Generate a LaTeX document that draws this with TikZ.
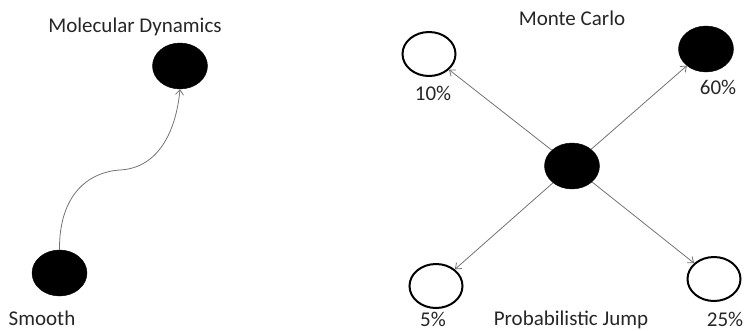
\documentclass[tikz,border=0pt]{standalone}
\usepackage{fontspec}
\setmainfont{Carlito}
\usetikzlibrary{shapes.geometric,arrows.meta}

\begin{document}
\begin{tikzpicture}[x=1pt,y=-1pt,
  particle/.style={ellipse,minimum width=55pt,minimum height=46pt,inner sep=0pt},
  full/.style={particle,fill=black,draw=black},
  empty/.style={particle,draw=black,line width=2pt,fill=white,minimum width=53pt,minimum height=44pt},
  move/.style={draw=black!55,line width=0.8pt,-{Straight Barb[length=5pt,width=8pt]}},
  lbl/.style={anchor=base,text=black!85,font=\fontsize{21}{25}\selectfont,inner sep=0pt}]
  \useasboundingbox (0,0) rectangle (747,330);

  % Molecular dynamics: smooth trajectory
  \node[full] (md) at (180,66) {};
  \node[full] (smooth) at (59.5,273) {};
  \coordinate (bend) at (120,170);
  \draw[move] (smooth.north) .. controls (59,195) and (88,172) .. (bend)
              .. controls (158,168) and (176,132) .. (md.south);
  \node[lbl] (mdlabel) at (135,32) {Molecular Dynamics};
  \node[lbl] (smoothlabel) at (42,325) {Smooth};

  % Monte Carlo: probabilistic jumps from one state
  \node[full] (c) at (572,166) {};
  \node[empty] (p10) at (429,54) {};
  \node[full] (p60) at (706,49) {};
  \node[empty] (p5) at (436,286) {};
  \node[empty] (p25) at (714,279) {};
  \draw[move] (c) -- (p10);
  \draw[move] (c) -- (p60);
  \draw[move] (c) -- (p5);
  \draw[move] (c) -- (p25);

  \node[lbl] (mclabel) at (572,25) {Monte Carlo};
  \node[lbl] (l10) at (433,100) {10\%};
  \node[lbl] (l60) at (718,94) {60\%};
  \node[lbl] (l5) at (433,326) {5\%};
  \node[lbl] (l25) at (725,326) {25\%};
  \node[lbl] (pjlabel) at (571,325) {Probabilistic Jump};
\end{tikzpicture}
\end{document}
